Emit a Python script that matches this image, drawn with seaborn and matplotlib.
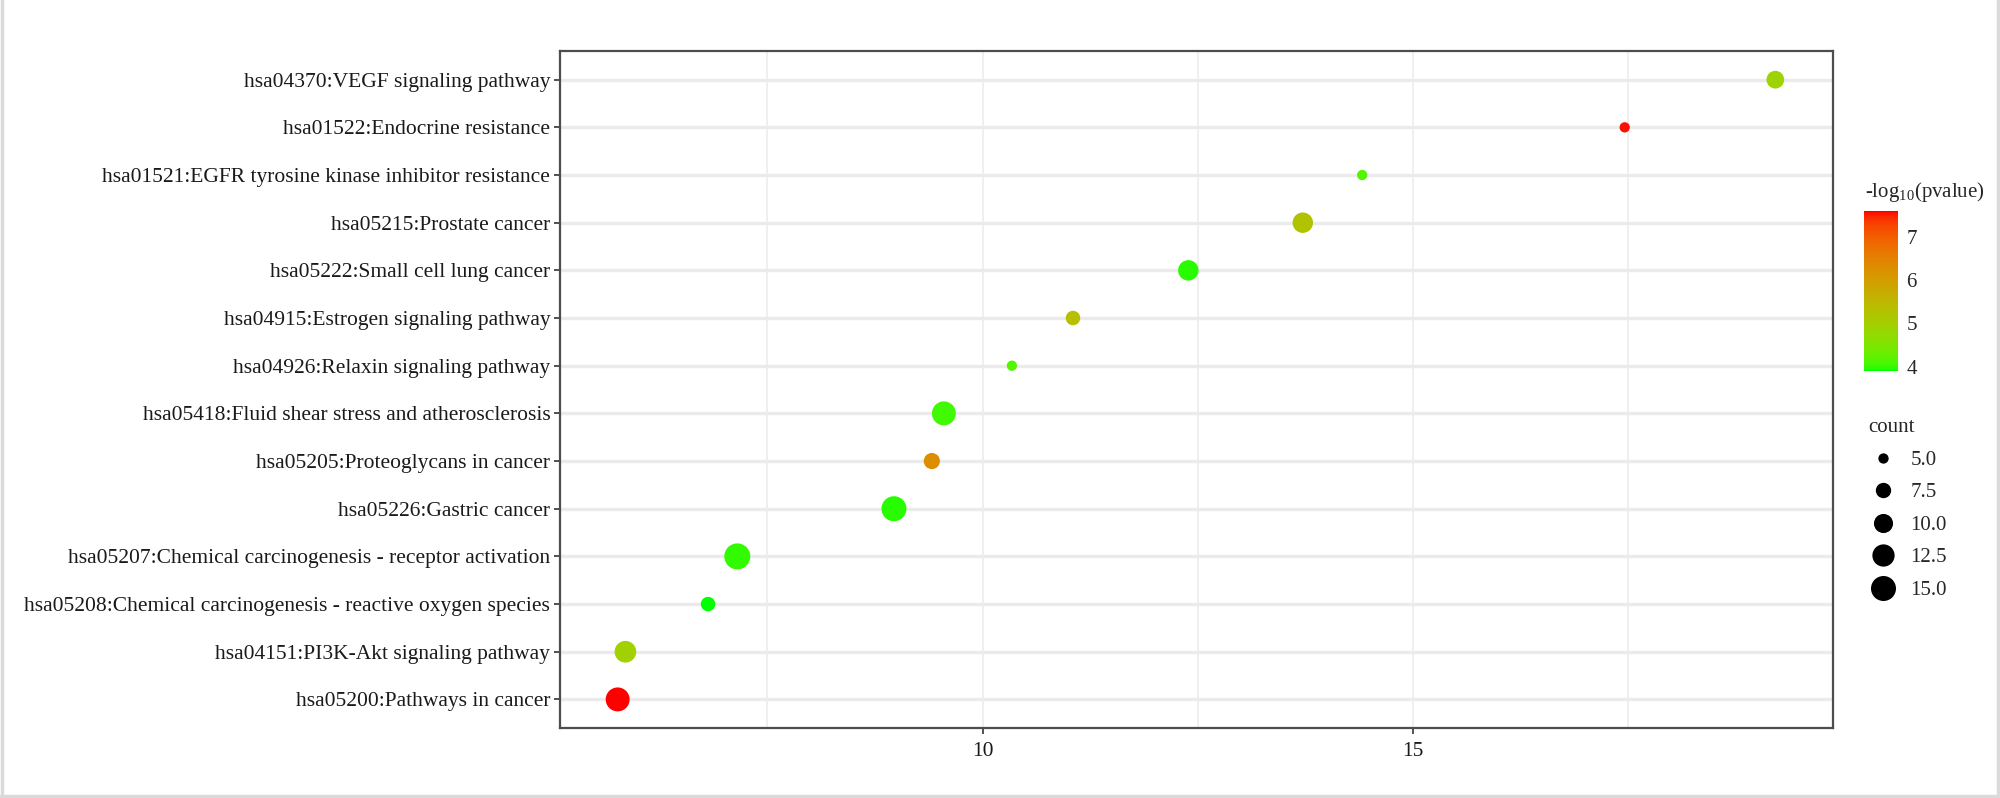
import numpy as np
import pandas as pd
import matplotlib
matplotlib.use("Agg")
import matplotlib.pyplot as plt
import seaborn as sns
from matplotlib.colors import ListedColormap, Normalize
from matplotlib.cm import ScalarMappable
from matplotlib.lines import Line2D

# ---------------- data (top to bottom as displayed) ----------------
terms = [
    "hsa04370:VEGF signaling pathway",
    "hsa01522:Endocrine resistance",
    "hsa01521:EGFR tyrosine kinase inhibitor resistance",
    "hsa05215:Prostate cancer",
    "hsa05222:Small cell lung cancer",
    "hsa04915:Estrogen signaling pathway",
    "hsa04926:Relaxin signaling pathway",
    "hsa05418:Fluid shear stress and atherosclerosis",
    "hsa05205:Proteoglycans in cancer",
    "hsa05226:Gastric cancer",
    "hsa05207:Chemical carcinogenesis - receptor activation",
    "hsa05208:Chemical carcinogenesis - reactive oxygen species",
    "hsa04151:PI3K-Akt signaling pathway",
    "hsa05200:Pathways in cancer",
]
enrichment = [19.21, 17.46, 14.41, 13.72, 12.39, 11.05, 10.34, 9.55, 9.41, 8.97, 7.15, 6.81, 5.85, 5.76]
counts = [9, 5, 5, 11, 11, 7, 5, 14, 8, 15, 16, 7, 12, 14]
neglog_p = [4.9, 7.55, 4.15, 5.25, 3.96, 5.35, 4.15, 4.05, 6.3, 3.97, 4.0, 3.9, 4.95, 7.58]

x_ticks = [10, 15]
x_minor = [7.5, 12.5, 17.5]
cbar_ticks = [4, 5, 6, 7]
size_breaks = [5.0, 7.5, 10.0, 12.5, 15.0]

df = pd.DataFrame({"term": terms, "enrichment": enrichment,
                   "count": counts, "pvalue": neglog_p})

# ---------------- green -> red gradient interpolated in Lab ----------------
def _srgb_to_lab(rgb):
    rgb = np.asarray(rgb, float)
    lin = np.where(rgb <= 0.04045, rgb / 12.92, ((rgb + 0.055) / 1.055) ** 2.4)
    M = np.array([[0.4124, 0.3576, 0.1805],
                  [0.2126, 0.7152, 0.0722],
                  [0.0193, 0.1192, 0.9505]])
    xyz = M @ lin
    xyz = xyz / np.array([0.95047, 1.0, 1.08883])
    f = np.where(xyz > 0.008856, np.cbrt(xyz), 7.787 * xyz + 16 / 116)
    return np.array([116 * f[1] - 16, 500 * (f[0] - f[1]), 200 * (f[1] - f[2])])

def _lab_to_srgb(lab):
    L, a, b = lab
    fy = (L + 16) / 116
    fx = fy + a / 500
    fz = fy - b / 200
    f = np.array([fx, fy, fz])
    xyz = np.where(f ** 3 > 0.008856, f ** 3, (f - 16 / 116) / 7.787)
    xyz = xyz * np.array([0.95047, 1.0, 1.08883])
    Minv = np.array([[3.2406, -1.5372, -0.4986],
                     [-0.9689, 1.8758, 0.0415],
                     [0.0557, -0.2040, 1.0570]])
    lin = Minv @ xyz
    lin = np.clip(lin, 0, 1)
    rgb = np.where(lin <= 0.0031308, 12.92 * lin, 1.055 * lin ** (1 / 2.4) - 0.055)
    return np.clip(rgb, 0, 1)

lab_lo = _srgb_to_lab([0, 1, 0])
lab_hi = _srgb_to_lab([1, 0, 0])
cols = [_lab_to_srgb(lab_lo + t * (lab_hi - lab_lo)) for t in np.linspace(0, 1, 256)]
cmap = ListedColormap(cols)
pmin, pmax = min(neglog_p), max(neglog_p)

# ---------------- figure ----------------
sns.set_theme(style="white")
plt.rcParams["font.family"] = ["Liberation Serif", "DejaVu Serif"]
plt.rcParams["mathtext.fontset"] = "custom"
plt.rcParams["mathtext.rm"] = "Liberation Serif"

fig = plt.figure(figsize=(20, 7.98), dpi=100)
ax = fig.add_axes([0.28, 0.0877, 0.6365, 0.8483])

smin, smax = 55, 351
sns.scatterplot(data=df, x="enrichment", y="term", hue="pvalue", size="count",
                palette=cmap, hue_norm=(pmin, pmax), sizes=(smin, smax),
                size_norm=(5, 16), linewidth=0, legend=False, ax=ax, zorder=3)

n = len(terms)
ax.set_ylim(n - 1 + 0.6, -0.6)
ax.set_xlim(5.09, 19.88)
ax.set_xticks(x_ticks)
ax.set_xticks(x_minor, minor=True)
ax.set_xlabel("")
ax.set_ylabel("")
ax.set_axisbelow(True)
ax.yaxis.grid(True, color="#EBEBEB", lw=2.4)
ax.xaxis.grid(True, which="both", color="#EBEBEB", lw=1.1)
ax.tick_params(axis="both", which="major", labelsize=15.5, length=4, width=1.2,
               color="#333333", labelcolor="#1a1a1a", pad=3)
ax.tick_params(axis="x", which="major", pad=6)
ax.tick_params(axis="x", which="minor", length=0)
ax.tick_params(left=True, bottom=True)
for s in ax.spines.values():
    s.set_color("#4D4D4D")
    s.set_linewidth(1.6)

# ---------------- colour legend ----------------
fig.text(0.9325, 0.759, r"-log$_{10}$(pvalue)", fontsize=15, ha="left", va="center")
cax = fig.add_axes([0.932, 0.535, 0.017, 0.2])
sm = ScalarMappable(norm=Normalize(pmin, pmax), cmap=cmap)
cb = fig.colorbar(sm, cax=cax, ticks=cbar_ticks)
cb.outline.set_visible(False)
cax.tick_params(axis="y", which="both", direction="in", length=5, width=1,
                color="white", left=True, right=True, labelsize=15, pad=6)
cax.minorticks_off()

# ---------------- size legend ----------------
def _area(v):
    return smin + (v - 5) / (16 - 5) * (smax - smin)

handles = [Line2D([], [], ls="none", marker="o", color="black",
                  markersize=np.sqrt(_area(v)), markeredgewidth=0)
           for v in size_breaks]
leg = fig.legend(handles, [f"{v:.1f}" for v in size_breaks], title="count",
                 loc="upper left", bbox_to_anchor=(0.927, 0.494), frameon=False,
                 fontsize=15, title_fontsize=15, labelspacing=0.62,
                 handletextpad=0.6, borderpad=0.2, handlelength=1.4)
leg._legend_box.align = "left"

# ---------------- outer light frame ----------------
for xs, ys in [([0.001, 0.001], [0, 1]), ([0.999, 0.999], [0, 1]), ([0, 1], [0.002, 0.002])]:
    fig.add_artist(Line2D(xs, ys, transform=fig.transFigure, color="#DADADA", lw=2.5))

fig.savefig("out.png", dpi=100, facecolor="white")
